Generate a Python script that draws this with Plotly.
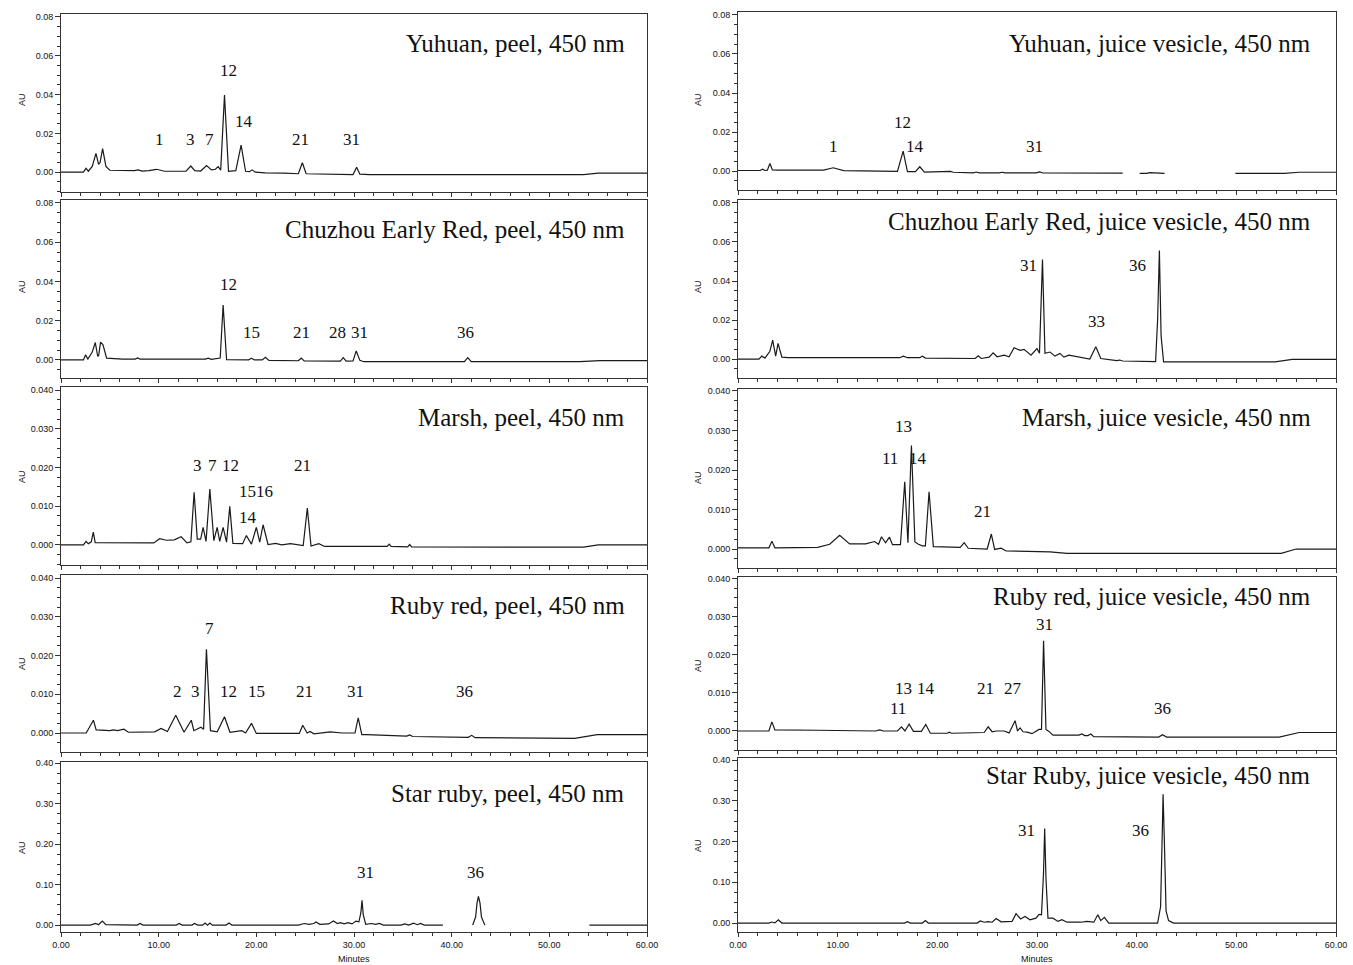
import plotly.graph_objects as go

# ---------------- data (retention time in minutes, absorbance in AU) ----------------
yuhuan_peel_t = [0, 2.3, 2.56, 2.8, 3.2, 3.58, 3.85, 4.0, 4.26, 4.6, 5.0, 7.5, 7.9, 8.3, 9.0, 9.78, 10.6, 12.8, 13.29, 13.7,
                 14.3, 14.9, 15.4, 15.8, 16.1, 16.35, 16.74, 17.15, 17.9, 18.44, 18.9, 19.3, 19.56, 19.9, 20.9, 21.9, 22.9,
                 24.3, 24.71, 25.1, 27.0, 29.9, 30.27, 30.6, 31.6, 53.5, 55.0, 60]
yuhuan_peel_au = [0, 0, 0.002, 0.0005, 0.003, 0.0097, 0.004, 0.005, 0.0122, 0.003, 0.001, 0.0008, 0.0012, 0.0006, 0.0008,
                  0.0015, 0.0005, 0.0005, 0.0032, 0.0008, 0.0006, 0.0034, 0.0012, 0.0015, 0.0029, 0.001, 0.0397, 0.0005,
                  0.0008, 0.0139, 0.0005, 0.0003, 0.0012, 0.0, -0.0003, -0.0003, -0.0005, -0.0008, 0.0049, -0.0008,
                  -0.001, -0.0012, 0.0026, -0.001, -0.0012, -0.0012, -0.0005, -0.0005]

chuzhou_peel_t = [0, 2.3, 2.52, 2.75, 3.2, 3.51, 3.75, 3.85, 4.05, 4.3, 4.67, 5.8, 6.03, 6.3, 7.6, 7.84, 8.1, 14.8, 15.06,
                  15.4, 16.3, 16.6, 16.95, 19.2, 19.5, 19.8, 20.6, 20.93, 21.3, 23.0, 24.3, 24.6, 24.9, 28.6, 28.9, 29.2,
                  29.9, 30.23, 30.6, 31.0, 41.3, 41.65, 42.0, 53.1, 55.2, 60]
chuzhou_peel_au = [0, 0, 0.0026, 0.0005, 0.004, 0.0089, 0.002, 0.002, 0.0091, 0.0077, 0.0009, 0.0005, 0.0008, 0.0004,
                   0.0004, 0.001, 0.0004, 0.0004, 0.0009, 0.0003, 0.001, 0.028, 0.0002, 0.0, 0.0009, 0.0, 0.0, 0.0014,
                   -0.0002, -0.0003, -0.0004, 0.0009, -0.0005, -0.0006, 0.0012, -0.0006, -0.0005, 0.0046, -0.0002,
                   -0.0009, -0.0009, 0.0012, -0.0009, -0.0009, -0.0003, -0.0003]

marsh_peel_t = [0, 2.3, 2.56, 2.8, 3.1, 3.31, 3.5, 4.5, 9.5, 10.1, 10.8, 11.6, 12.3, 12.9, 13.3, 13.63, 13.95, 14.3, 14.55,
                14.85, 15.24, 15.65, 15.99, 16.25, 16.6, 16.95, 17.28, 17.6, 18.6, 18.98, 19.5, 20.0, 20.35, 20.69, 21.2,
                21.98, 22.6, 23.5, 24.8, 25.22, 25.6, 26.4, 27.0, 33.4, 33.6, 33.8, 35.5, 35.7, 35.9, 53.5, 55.0, 60]
marsh_peel_au = [0, 0, 0.0009, 0.0003, 0.0008, 0.0033, 0.0006, 0.0006, 0.0005, 0.0016, 0.0012, 0.0013, 0.0021, 0.0005,
                 0.0008, 0.0136, 0.0015, 0.0015, 0.0045, 0.0009, 0.0144, 0.0011, 0.0045, 0.0009, 0.0045, 0.0007, 0.00995,
                 0.0004, 0.0003, 0.0024, 0.0002, 0.0045, 0.0007, 0.0052, 0.0001, 0.0004, 0.0, 0.0003, -0.0002, 0.0095,
                 -0.0003, 0.0003, -0.0004, -0.0004, 0.0002, -0.0004, -0.0005, 0.0001, -0.0005, -0.0006, 0.0, 0.0]

rubyred_peel_t = [0, 2.58, 3.32, 3.6, 5.0, 5.36, 5.8, 6.45, 6.9, 9.6, 10.25, 10.9, 11.75, 12.6, 13.34, 13.6, 14.33, 14.6,
                  14.89, 15.3, 16.0, 16.74, 17.3, 18.5, 18.9, 19.5, 20.0, 24.4, 24.75, 25.2, 25.5, 25.9, 27.55, 28.8,
                  30.1, 30.43, 30.8, 31.3, 35.4, 35.7, 36.0, 41.7, 42.05, 42.4, 52.6, 54.9, 60]
rubyred_peel_au = [0, 0, 0.0033, 0.0008, 0.0006, 0.0008, 0.0006, 0.001, 0.0002, 0.0003, 0.0012, 0.0004, 0.0046, 0.0002,
                   0.0033, 0.0006, 0.0015, 0.001, 0.0216, 0.0006, 0.0003, 0.0042, 0.0002, 0.0006, 0.0, 0.0025, -0.0001,
                   -0.0001, 0.002, 0.0, 0.0004, -0.0002, 0.0003, 0.0, 0.0, 0.0039, -0.0004, -0.0004, -0.0008, -0.0005,
                   -0.0009, -0.0011, -0.0006, -0.0012, -0.0014, -0.0004, -0.0004]

starruby_peel_t = [0, 3.0, 3.55, 3.85, 4.23, 4.6, 7.8, 8.1, 8.4, 11.8, 12.1, 12.4, 13.4, 13.66, 14.0, 14.5, 14.75, 15.0,
                   15.25, 15.5, 16.9, 17.2, 17.5, 24.3, 24.9, 25.4, 25.9, 26.1, 26.5, 27.4, 27.9, 28.3, 28.6, 29.0, 29.4,
                   29.8, 30.2, 30.5, 30.7, 30.82, 30.95, 31.2, 31.8, 32.2, 32.6, 33.0, 34.8, 35.2, 35.6, 36.1, 36.5,
                   36.8, 37.2, 39.1, None, 42.15, 42.45, 42.6, 42.74, 42.9, 43.05, 43.4, None, 54.1, 60]
starruby_peel_au = [0, 0, 0.004, 0.001, 0.01, 0.001, 0, 0.004, 0, 0, 0.004, 0, 0, 0.004, 0, 0, 0.005, 0, 0.005, 0, 0,
                    0.005, 0, 0, 0.004, 0.002, 0.004, 0.0075, 0.002, 0.003, 0.01, 0.004, 0.006, 0.003, 0.006, 0.003,
                    0.01, 0.008, 0.03, 0.061, 0.025, 0.002, 0.004, 0.002, 0.004, 0, 0, 0.003, 0, 0.005, 0.001,
                    0.004, 0, 0, None, 0, 0.02, 0.055, 0.0706, 0.055, 0.02, 0, None, 0, 0]

yuhuan_juice_t = [0, 2.2, 2.47, 2.7, 2.95, 3.2, 3.45, 4.0, 8.6, 9.55, 10.6, 12.0, 16.0, 16.57, 17.0, 17.8, 18.24, 18.7,
                  20.0, 20.3, 20.6, 21.0, 21.3, 21.6, 23.6, 23.9, 24.2, 26.2, 26.5, 26.8, 29.9, 30.26, 30.6, 38.6, None,
                  40.3, 41.0, 41.3, 42.8, None, 49.9, 54.8, 56.3, 60]
yuhuan_juice_au = [0.0003, 0.0003, 0.001, 0.0003, 0.0005, 0.0039, 0.0006, 0.0005, 0.0005, 0.0017, 0.0002, 0.0, -0.0002,
                   0.0102, -0.0003, -0.0003, 0.0022, -0.0005, -0.0005, -0.0002, -0.0005, -0.0005, -0.0002, -0.0006,
                   -0.0009, -0.0005, -0.0009, -0.0009, -0.0006, -0.0009, -0.0009, -0.0004, -0.001, -0.0011, None,
                   -0.0012, -0.0012, -0.0008, -0.0012, None, -0.0012, -0.0012, -0.0006, -0.0006]

chuzhou_juice_t = [0, 2.1, 2.39, 2.7, 3.2, 3.48, 3.78, 4.02, 4.4, 5.0, 16.2, 16.6, 17.0, 18.2, 18.5, 18.8, 23.8, 24.1,
                   24.4, 25.2, 25.6, 26.0, 26.7, 27.2, 27.7, 28.3, 28.7, 29.0, 29.4, 30.0, 30.25, 30.55, 30.8, 31.3, 31.8,
                   32.3, 32.7, 33.2, 34.0, 35.3, 35.9, 36.4, 38.0, 38.3, 38.6, 41.9, 42.1, 42.28, 42.45, 42.7, 53.9,
                   55.6, 60]
chuzhou_juice_au = [0, 0, 0.0015, 0.0005, 0.004, 0.0097, 0.0015, 0.008, 0.001, 0.0007, 0.0007, 0.0015, 0.0007, 0.0007,
                    0.0015, 0.0005, 0.0003, 0.0017, 0.0003, 0.001, 0.0032, 0.0012, 0.002, 0.0012, 0.0058, 0.0045, 0.005,
                    0.0037, 0.002, 0.0054, 0.003, 0.051, 0.003, 0.0036, 0.0015, 0.0029, 0.001, 0.002, 0.0012, 0.0,
                    0.0063, 0.0003, -0.0008, -0.0005, -0.001, -0.0013, 0.02, 0.0556, 0.012, -0.0014, -0.0014,
                    -0.0002, -0.0002]

marsh_juice_t = [0, 3.1, 3.4, 3.7, 8.0, 9.2, 10.2, 11.2, 12.8, 13.7, 14.1, 14.4, 14.8, 15.2, 15.5, 16.3, 16.73, 17.05,
                 17.4, 17.75, 18.1, 18.5, 18.8, 19.17, 19.6, 22.3, 22.7, 23.1, 25.0, 25.42, 25.75, 26.4, 26.9, 31.3, 33.0,
                 54.5, 56.0, 60]
marsh_juice_au = [0.0003, 0.0003, 0.002, 0.0003, 0.0004, 0.0012, 0.0035, 0.0013, 0.0013, 0.0019, 0.0012, 0.0031, 0.0016,
                  0.003, 0.0011, 0.0011, 0.017, 0.0016, 0.0262, 0.0018, 0.0012, 0.0008, 0.0008, 0.0145, 0.0006, 0.0004,
                  0.0016, 0.0002, 0.0, 0.0038, -0.0001, 0.0002, -0.0005, -0.0007, -0.0011, -0.0011, 0.0, 0.0]

rubyred_juice_t = [0, 3.1, 3.4, 3.7, 8.0, 13.8, 14.2, 14.6, 16.0, 16.4, 16.75, 17.17, 17.6, 18.4, 18.84, 19.3, 21.0, 21.2,
                   21.4, 24.7, 25.1, 25.5, 25.9, 26.7, 27.2, 27.8, 28.05, 28.3, 28.6, 29.0, 29.5, 30.2, 30.45, 30.66,
                   30.9, 31.2, 31.6, 34.2, 34.5, 34.8, 35.1, 35.4, 35.7, 42.2, 42.6, 43.0, 54.3, 56.3, 60]
rubyred_juice_au = [0, 0, 0.0024, 0.0003, 0.0002, 0.0, 0.0003, 0.0, 0.0, 0.0011, 0.0, 0.0018, -0.0001, -0.0001, 0.0017,
                    -0.0006, -0.0006, -0.0003, -0.0006, -0.0004, 0.0011, -0.0002, 0.0, 0.0, -0.0005, 0.0027, 0.0,
                    0.0008, -0.0002, -0.0003, -0.0007, 0.0004, 0.0004, 0.0237, 0.0004, -0.0001, -0.0011, -0.0011,
                    -0.0008, -0.0012, -0.0012, -0.0008, -0.0015, -0.0016, -0.001, -0.0016, -0.0016, -0.0004, -0.0004]

starruby_juice_t = [0, 3.1, 3.4, 3.7, 4.05, 4.4, 16.7, 17.0, 17.3, 18.5, 18.8, 19.1, 24.0, 24.3, 24.7, 25.1, 25.5, 25.9,
                    26.4, 27.5, 27.9, 28.35, 28.8, 29.3, 29.9, 30.2, 30.45, 30.65, 30.77, 30.9, 31.1, 31.6, 32.1, 32.5,
                    33.0, 34.4, 35.0, 35.7, 36.1, 36.4, 36.76, 37.2, 42.1, 42.4, 42.55, 42.65, 42.78, 42.95, 43.2,
                    43.7, 60]
starruby_juice_au = [0, 0, 0.0025, 0.0005, 0.008, 0, 0, 0.0035, 0, 0, 0.006, 0, 0, 0.005, 0.002, 0.0035, 0.002, 0.011,
                     0.003, 0.004, 0.023, 0.01, 0.016, 0.008, 0.012, 0.021, 0.02, 0.12, 0.232, 0.11, 0.012, 0.012,
                     0.004, 0.008, 0.002, 0.002, 0.004, 0.002, 0.0205, 0.006, 0.014, 0.0, 0.0, 0.04, 0.2, 0.316,
                     0.2, 0.03, 0.006, 0.0, 0.0]

titles = ["Yuhuan, peel, 450 nm", "Chuzhou Early Red, peel, 450 nm", "Marsh, peel, 450 nm",
          "Ruby red, peel, 450 nm", "Star ruby, peel, 450 nm",
          "Yuhuan, juice vesicle, 450 nm", "Chuzhou Early Red, juice vesicle, 450 nm",
          "Marsh, juice vesicle, 450 nm", "Ruby red, juice vesicle, 450 nm", "Star Ruby, juice vesicle, 450 nm"]
title_y = [0.0662, 0.0663, 0.0328, 0.0328, 0.326, 0.0656, 0.0703, 0.0332, 0.0353, 0.361]

# peak labels: (text, minutes, AU)
labels_yuhuan_peel = [("1", 10.1, 0.0169), ("3", 13.3, 0.0169), ("7", 15.2, 0.0169), ("12", 17.1, 0.0523),
                      ("14", 18.7, 0.0262), ("21", 24.5, 0.0169), ("31", 29.7, 0.0169)]
labels_chuzhou_peel = [("12", 17.1, 0.0383), ("15", 19.5, 0.0138), ("21", 24.6, 0.0138), ("28", 28.3, 0.0138),
                       ("31", 30.6, 0.0138), ("36", 41.4, 0.0138)]
labels_marsh_peel = [("3", 14.0, 0.0204), ("7", 15.5, 0.0204), ("12", 17.4, 0.0204), ("1516", 20.0, 0.0137),
                     ("14", 19.1, 0.0072), ("21", 24.7, 0.0204)]
labels_rubyred_peel = [("7", 15.2, 0.0271), ("2", 11.9, 0.0106), ("3", 13.8, 0.0106), ("12", 17.2, 0.0106),
                       ("15", 20.0, 0.0106), ("21", 24.9, 0.0106), ("31", 30.2, 0.0106), ("36", 41.3, 0.0106)]
labels_starruby_peel = [("31", 31.2, 0.131), ("36", 42.4, 0.131)]
labels_yuhuan_juice = [("1", 9.6, 0.0128), ("12", 16.5, 0.0251), ("14", 17.8, 0.0128), ("31", 29.7, 0.0128)]
labels_chuzhou_juice = [("31", 29.1, 0.0477), ("36", 40.1, 0.0477), ("33", 36.0, 0.019)]
labels_marsh_juice = [("13", 16.6, 0.0311), ("11", 15.3, 0.0228), ("14", 18.1, 0.0228), ("21", 24.5, 0.0096)]
labels_rubyred_juice = [("31", 30.8, 0.0279), ("13", 16.6, 0.0113), ("14", 18.9, 0.0113), ("21", 24.8, 0.0113),
                        ("27", 27.6, 0.0113), ("11", 16.1, 0.006), ("36", 42.6, 0.006)]
labels_starruby_juice = [("31", 28.9, 0.226), ("36", 40.4, 0.226)]

x_ticks = [0, 10, 20, 30, 40, 50, 60]

# ---------------- layout geometry (pixels) ----------------
W, H = 1353, 965
col_x = [(61, 647), (738, 1336)]
row_y = [[(14, 192), (200, 378), (387, 565), (575, 752), (762, 932)],
         [(12, 190), (200, 378), (389, 568), (577, 750), (758, 932)]]
au_label_y = [[100, 287, 477, 664, 848], [100, 287, 478, 666, 846]]
y_ranges = [[[-0.0102, 0.0815], [-0.0092, 0.0815], [-0.0052, 0.0408], [-0.0049, 0.0408], [-0.017, 0.4025]],
            [[-0.0097, 0.0815], [-0.0097, 0.0815], [-0.0048, 0.0405], [-0.0050, 0.0405], [-0.022, 0.405]]]
y_dticks = [0.02, 0.02, 0.01, 0.01, 0.1]
y_formats = [".2f", ".2f", ".3f", ".3f", ".2f"]

series = [(yuhuan_peel_t, yuhuan_peel_au), (chuzhou_peel_t, chuzhou_peel_au), (marsh_peel_t, marsh_peel_au),
          (rubyred_peel_t, rubyred_peel_au), (starruby_peel_t, starruby_peel_au),
          (yuhuan_juice_t, yuhuan_juice_au), (chuzhou_juice_t, chuzhou_juice_au), (marsh_juice_t, marsh_juice_au),
          (rubyred_juice_t, rubyred_juice_au), (starruby_juice_t, starruby_juice_au)]
label_sets = [labels_yuhuan_peel, labels_chuzhou_peel, labels_marsh_peel, labels_rubyred_peel, labels_starruby_peel,
              labels_yuhuan_juice, labels_chuzhou_juice, labels_marsh_juice, labels_rubyred_juice,
              labels_starruby_juice]

fig = go.Figure()
layout = dict(width=W, height=H, autosize=False, margin=dict(l=0, r=0, t=0, b=0, pad=0),
              paper_bgcolor="white", plot_bgcolor="white", showlegend=False)
annotations = []
tick_font = dict(family="Liberation Sans, Arial, sans-serif", size=9, color="#111")
serif = "Liberation Serif, Times New Roman, serif"
axcol = "#333"

for k in range(10):
    c, r = divmod(k, 5)
    n = k + 1
    xa, ya = f"x{n}", f"y{n}"
    t, au = series[k]
    assert len(t) == len(au), (k, len(t), len(au))
    fig.add_trace(go.Scatter(x=t, y=au, mode="lines", xaxis=xa, yaxis=ya,
                             line=dict(color="#1a1a1a", width=1.2), connectgaps=False, hoverinfo="skip"))
    x0, x1 = col_x[c]
    top, bot = row_y[c][r]
    last = (r == 4)
    layout[f"xaxis{n}"] = dict(
        domain=[x0 / W, x1 / W], anchor=ya, range=[0, 60], tickvals=x_ticks,
        ticktext=[f"{v:.2f}" for v in x_ticks], showticklabels=last, ticks="outside", ticklen=4,
        tickwidth=1, tickcolor=axcol, showline=True, linecolor=axcol, linewidth=1, mirror=True,
        showgrid=False, zeroline=False, tickfont=tick_font, automargin=False,
        minor=dict(dtick=2, tick0=0, ticks="outside", ticklen=3, tickcolor=axcol, showgrid=False),
        fixedrange=True)
    layout[f"yaxis{n}"] = dict(
        domain=[1 - bot / H, 1 - top / H], anchor=xa, range=y_ranges[c][r], dtick=y_dticks[r], tick0=0,
        tickformat=y_formats[r], ticks="outside", ticklen=5, tickwidth=1, tickcolor=axcol,
        showline=True, linecolor=axcol, linewidth=1, mirror=True, showgrid=False, zeroline=False,
        tickfont=tick_font, automargin=False,
        minor=dict(dtick=y_dticks[r] / 4, tick0=0, ticks="outside", ticklen=3, tickcolor=axcol, showgrid=False),
        fixedrange=True)
    annotations.append(dict(text=titles[k], x=58.0 if c == 0 else 57.7, y=title_y[k], xref=xa, yref=ya,
                            xanchor="right", yanchor="middle", showarrow=False,
                            font=dict(family=serif, size=25, color="#111")))
    for (txt, lx, ly) in label_sets[k]:
        annotations.append(dict(text=txt, x=lx, y=ly, xref=xa, yref=ya, xanchor="center", yanchor="middle",
                                showarrow=False, font=dict(family=serif, size=17, color="#111")))
    annotations.append(dict(text="AU", x=(22 if c == 0 else 698) / W, y=1 - au_label_y[c][r] / H,
                            xref="paper", yref="paper", textangle=-90, showarrow=False,
                            xanchor="center", yanchor="middle", font=tick_font))

for c, cx in enumerate([354, 1037]):
    annotations.append(dict(text="Minutes", x=cx / W, y=1 - 959 / H, xref="paper", yref="paper",
                            showarrow=False, xanchor="center", yanchor="middle", font=tick_font))

layout["annotations"] = annotations
fig.update_layout(**layout)
fig.write_html("out.html", config={"displayModeBar": False, "staticPlot": True},
               post_script="document.body.style.margin='0';document.body.style.padding='0';"
                           "document.body.style.overflow='hidden';")
